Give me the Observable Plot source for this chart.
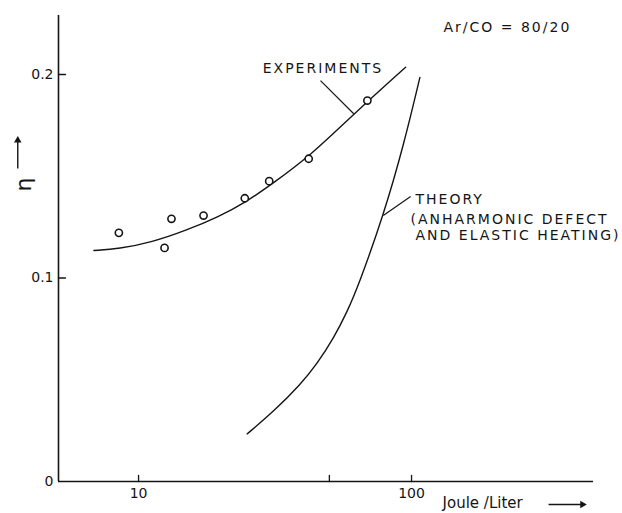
<!DOCTYPE html>
<html><head><meta charset="utf-8">
<script src="https://cdn.jsdelivr.net/npm/d3@7"></script>
<script src="https://cdn.jsdelivr.net/npm/@observablehq/plot@0.6"></script>
<style>body{margin:0;background:#fff} #chart{width:622px;height:513px}</style>
</head><body><div id="chart"></div>
<script>
// Measured points (circles)
const expX = [8.47, 12.45, 13.2, 17.3, 24.5, 30.1, 42.0, 68.9];
const expY = [0.1222, 0.1148, 0.1291, 0.1307, 0.1392, 0.1476, 0.1586, 0.1872];
// Fitted experiment curve
const fitX = [6.86, 8.47, 11.2, 14.9, 19.7, 24.7, 30.9, 42.7, 61.5, 95.1];
const fitY = [0.1135, 0.1143, 0.1176, 0.1233, 0.1302, 0.1372, 0.1463, 0.1602, 0.1807, 0.2036];
// Theory curve
const theoryX = [25.0, 31.3, 39.2, 45.1, 51.9, 58.1, 64.1, 79.1, 93.7, 107.3];
const theoryY = [0.0234, 0.0345, 0.0477, 0.0579, 0.0706, 0.0834, 0.0968, 0.1312, 0.1656, 0.1986];
// Axes
const xDomain = [5.09, 464];
const yDomain = [0, 0.229];
const xTicks = [10, 50, 100];
const xTickLabels = [10, 100];
const yTicks = [0, 0.1, 0.2];
// Annotations
const annotText = ["Ar/CO = 80/20", "EXPERIMENTS", "THEORY", "(ANHARMONIC DEFECT", "AND ELASTIC HEATING)"];
const annotX = [130.9, 28.5, 103.4, 99.1, 103.4];
const annotY = [0.2231, 0.2029, 0.1386, 0.1287, 0.1209];
const leaderX1 = [46.4, 99.2];
const leaderY1 = [0.197, 0.140];
const leaderX2 = [61.4, 78.8];
const leaderY2 = [0.1807, 0.1307];
// Axis titles and their arrows
const yLabel = "η";
const xLabel = "Joule /Liter";
const yArrow = {x: 3.61, y1: 0.1538, y2: 0.1676};
const xArrow = {y: -0.0113, x1: 317.6, x2: 422.7};

const pts = expX.map((x, i) => ({x, y: expY[i]}));
const fit = fitX.map((x, i) => ({x, y: fitY[i]}));
const theory = theoryX.map((x, i) => ({x, y: theoryY[i]}));
const annot = annotText.map((t, i) => ({t, x: annotX[i], y: annotY[i]}));
const leaders = leaderX1.map((x1, i) => ({x1, y1: leaderY1[i], x2: leaderX2[i], y2: leaderY2[i]}));

const tickShape = {draw(ctx, l) { ctx.moveTo(0, 0); ctx.lineTo(0, -l); }};
const ink = "#151515";

const plot = Plot.plot({
  width: 622, height: 513,
  marginLeft: 58, marginRight: 29, marginTop: 15, marginBottom: 32,
  style: {fontFamily: "DejaVu Sans", fontSize: "14px", color: ink, background: "white", overflow: "visible"},
  x: {type: "log", domain: xDomain},
  y: {domain: yDomain},
  marks: [
    Plot.ruleX([xDomain[0]], {strokeWidth: 1.6}),
    Plot.ruleY([yDomain[0]], {strokeWidth: 1.6}),
    Plot.vector(xTicks, {x: d => d, y: yDomain[0], length: 6, rotate: 0, anchor: "start", shape: tickShape, strokeWidth: 1.3}),
    Plot.vector(yTicks.filter(d => d > 0), {x: xDomain[0], y: d => d, length: 7, rotate: 90, anchor: "start", shape: tickShape, strokeWidth: 1.3}),
    Plot.axisX(xTickLabels, {tickSize: 0, tickPadding: 7, tickFormat: d => String(d), label: null, fontSize: 14}),
    Plot.axisY(yTicks, {tickSize: 0, tickPadding: 5, tickFormat: d => String(d), label: null, fontSize: 14}),
    Plot.line(fit, {x: "x", y: "y", curve: "basis", strokeWidth: 1.4}),
    Plot.line(theory, {x: "x", y: "y", curve: "basis", strokeWidth: 1.4}),
    Plot.dot(pts, {x: "x", y: "y", r: 3.6, stroke: ink, fill: "white", strokeWidth: 1.6}),
    Plot.link(leaders, {x1: "x1", y1: "y1", x2: "x2", y2: "y2", strokeWidth: 1.2}),
    Plot.text(annot, {x: "x", y: "y", text: "t", textAnchor: "start", lineAnchor: "middle", fontSize: 14}),
    // y title: η with upward arrow
    Plot.text([yLabel], {frameAnchor: "left", y: 0.1425, dx: -35, rotate: -90, text: d => d, fontSize: 22}),
    Plot.link([yArrow], {x1: "x", x2: "x", y1: "y1", y2: "y2", strokeWidth: 1.4}),
    Plot.dot([yArrow], {x: "x", y: "y2", symbol: "triangle2", r: 3.6, fill: ink}),
    // x title: Joule/Liter with right arrow
    Plot.text([xLabel], {frameAnchor: "bottom", x: 129.9, dy: 26, textAnchor: "start", text: d => d, fontSize: 15}),
    Plot.link([xArrow], {x1: "x1", x2: "x2", y1: "y", y2: "y", strokeWidth: 1.4}),
    Plot.dot([xArrow], {x: "x2", y: "y", symbol: "triangle2", rotate: 90, r: 3.6, fill: ink})
  ]
});
plot.querySelectorAll("text").forEach(t => {
  if (annotText.includes(t.textContent)) t.style.letterSpacing = "2px";
});
document.getElementById("chart").appendChild(plot);
</script>
</body></html>
